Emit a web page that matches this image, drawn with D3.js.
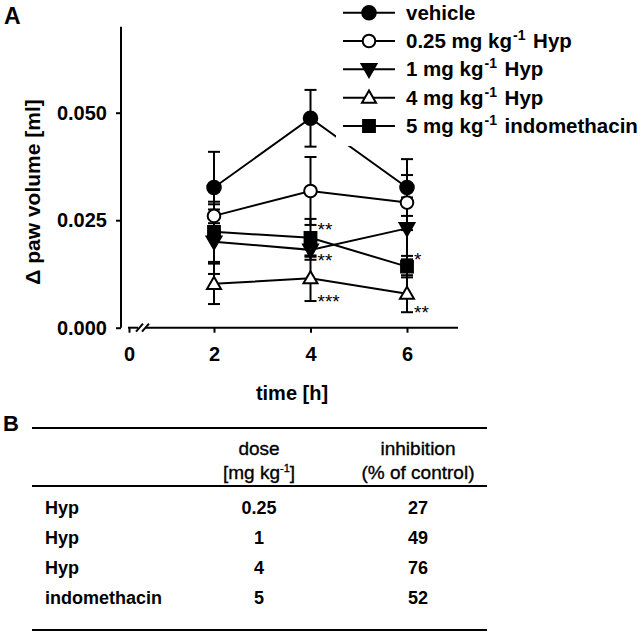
<!DOCTYPE html>
<html><head><meta charset="utf-8">
<script src="https://cdn.jsdelivr.net/npm/d3@7"></script>
<style>
html,body{margin:0;padding:0;background:#fff;}
svg{display:block;font-family:"Liberation Sans",Arial,sans-serif;}
</style></head>
<body>
<svg id="chart" width="642" height="635"></svg>
<script>
// ---- data ----
const times = [2, 4, 6];
const xTicks = [0, 2, 4, 6];
const yTicks = [0, 0.025, 0.05];
const seriesNames = ["vehicle", "0.25 mg kg-1 Hyp", "1 mg kg-1 Hyp", "4 mg kg-1 Hyp", "5 mg kg-1 indomethacin"];
const vehicleMean = [0.0326, 0.0487, 0.0326];
const vehicleErr  = [0.0083, 0.0066, 0.0066];
const hyp025Mean  = [0.0260, 0.0318, 0.0291];
const hyp025Err   = [0.0027, 0.0079, 0.0064];
const hyp1Mean    = [0.0200, 0.0181, 0.0231];
const hyp1Err     = [0.0075, 0.0023, 0.0072];
const hyp4Mean    = [0.0102, 0.0115, 0.0079];
const hyp4Err     = [0.0047, 0.0053, 0.0043];
const indoMean    = [0.0223, 0.0209, 0.0142];
const indoErr     = [0.0070, 0.0044, 0.0025];
// significance marks: series index, time, label, side of error bar
const sigSeries = [4, 2, 3, 2, 3];
const sigTimes  = [4, 4, 4, 6, 6];
const sigLabels = ["**", "**", "***", "*", "**"];
const sigSide   = ["top", "bottom", "bottom", "bottom", "bottom"];
// table
const tableHeaderDose = ["dose", "[mg kg-1]"];
const tableHeaderInh  = ["inhibition", "(% of control)"];
const tableAgent = ["Hyp", "Hyp", "Hyp", "indomethacin"];
const tableDose  = ["0.25", "1", "4", "5"];
const tableInhibition = [27, 49, 76, 52];

// ---- build ----
const means = [vehicleMean, hyp025Mean, hyp1Mean, hyp4Mean, indoMean];
const errs  = [vehicleErr, hyp025Err, hyp1Err, hyp4Err, indoErr];
const styles = [
  {sym: d3.symbolCircle, fill: "#000", rot: 0, size: 145},
  {sym: d3.symbolCircle, fill: "#fff", rot: 0, size: 125},
  {sym: d3.symbolTriangle, fill: "#000", rot: 180, size: 95},
  {sym: d3.symbolTriangle, fill: "#fff", rot: 0, size: 85},
  {sym: d3.symbolSquare, fill: "#000", rot: 0, size: 140}
];

const svg = d3.select("#chart");
const x = d3.scaleLinear().domain([0, 2, 6, 7.05]).range([129, 214, 407, 458]);
const y = d3.scaleLinear().domain([0, 0.07]).range([327.7, 26.7]);
const F = "Liberation Sans, Arial, sans-serif";

// panel labels
svg.append("text").attr("x", 4).attr("y", 24).attr("font-size", 23).attr("font-weight", "bold").text("A");
svg.append("text").attr("x", 3).attr("y", 431).attr("font-size", 22).attr("font-weight", "bold").text("B");

// y axis
const yAxisG = svg.append("g").attr("transform", "translate(121,0)")
  .call(d3.axisLeft(y).tickValues(yTicks).tickFormat(d3.format(".3f")).tickSize(5).tickPadding(9).tickSizeOuter(0));
yAxisG.select(".domain").remove();
yAxisG.append("line").attr("x1", 0).attr("x2", 0).attr("y1", y(0)).attr("y2", y(0.07)).attr("stroke", "#000").attr("stroke-width", 2);
yAxisG.selectAll(".tick line").attr("stroke-width", 2);
yAxisG.selectAll(".tick text").attr("font-size", 20).attr("font-weight", "bold").attr("font-family", F).attr("fill", "#000");

// x axis
const x0 = y(0);
const xAxisG = svg.append("g").attr("transform", `translate(0,${x0})`)
  .call(d3.axisBottom(x).tickValues(xTicks).tickFormat(d3.format("d")).tickSize(5).tickPadding(14));
xAxisG.select(".domain").remove();
xAxisG.selectAll(".tick line").attr("stroke-width", 2);
xAxisG.selectAll(".tick text").attr("font-size", 20).attr("font-weight", "bold").attr("font-family", F).attr("fill", "#000");
xAxisG.append("line").attr("x1", x(0) - 1).attr("x2", x(0) + 9).attr("y1", 0).attr("y2", 0).attr("stroke", "#000").attr("stroke-width", 2);
xAxisG.append("line").attr("x1", x(0) + 17).attr("x2", x(7.05)).attr("y1", 0).attr("y2", 0).attr("stroke", "#000").attr("stroke-width", 2);
[0, 6].forEach(o => {
  xAxisG.append("line").attr("x1", x(0) + 7 + o).attr("y1", 4).attr("x2", x(0) + 14 + o).attr("y2", -4)
    .attr("stroke", "#000").attr("stroke-width", 2);
});

// axis titles
svg.append("text").attr("transform", "translate(40,192) rotate(-90)").attr("text-anchor", "middle")
  .attr("font-size", 21).attr("font-weight", "bold").text("Δ paw volume [ml]");
svg.append("text").attr("x", 292).attr("y", 400).attr("text-anchor", "middle")
  .attr("font-size", 20).attr("font-weight", "bold").text("time [h]");

// series
const line = d3.line().x((d, i) => x(times[i])).y(d => y(d));
const sym = (s) => d3.symbol().type(s.sym).size(s.size)();
means.forEach((m, si) => {
  svg.append("path").attr("d", line(m)).attr("fill", "none").attr("stroke", "#000").attr("stroke-width", 2);
});
means.forEach((m, si) => {
  const g = svg.append("g");
  m.forEach((v, i) => {
    const e = errs[si][i], cx = x(times[i]);
    g.append("line").attr("x1", cx).attr("x2", cx).attr("y1", y(v - e)).attr("y2", y(v + e)).attr("stroke", "#000").attr("stroke-width", 2);
    [v - e, v + e].forEach(w => g.append("line").attr("x1", cx - 6).attr("x2", cx + 6).attr("y1", y(w)).attr("y2", y(w)).attr("stroke", "#000").attr("stroke-width", 2));
  });
});
[4, 3, 2, 1, 0].forEach(si => {
  const st = styles[si];
  means[si].forEach((v, i) => {
    svg.append("path").attr("d", sym(st))
      .attr("transform", `translate(${x(times[i])},${y(v) + (st.sym === d3.symbolTriangle ? (st.rot ? -1 : 1) : 0)}) rotate(${st.rot})`)
      .attr("fill", st.fill).attr("stroke", "#000").attr("stroke-width", 2);
  });
});

// significance
sigLabels.forEach((lab, k) => {
  const si = sigSeries[k], ti = times.indexOf(sigTimes[k]);
  const v = means[si][ti], e = errs[si][ti];
  const yy = sigSide[k] === "top" ? y(v + e) + 6 : y(v - e) - 4;
  svg.append("text").attr("x", x(sigTimes[k]) + 7).attr("y", yy + 11).attr("font-size", 19).text(lab);
});

// legend
const lg = svg.append("g");
lg.append("rect").attr("x", 336).attr("y", 0).attr("width", 306).attr("height", 146).attr("fill", "#fff");
const ly = d3.scalePoint().domain(d3.range(seriesNames.length)).range([12.7, 126]);
seriesNames.forEach((name, i) => {
  const cy = ly(i), st = styles[i];
  lg.append("line").attr("x1", 343).attr("x2", 395).attr("y1", cy).attr("y2", cy).attr("stroke", "#000").attr("stroke-width", 2);
  lg.append("path").attr("d", sym(st)).attr("transform", `translate(369,${cy + (st.sym === d3.symbolTriangle ? (st.rot ? -1 : 1) : 0)}) rotate(${st.rot})`)
    .attr("fill", st.fill).attr("stroke", "#000").attr("stroke-width", 2);
  const t = lg.append("text").attr("x", 406).attr("y", cy + 7).attr("font-size", 20.5).attr("font-weight", "bold");
  const parts = name.split("kg-1");
  if (parts.length > 1) {
    t.append("tspan").text(parts[0] + "kg");
    t.append("tspan").attr("font-size", 14).attr("dy", -8).attr("dx", 1).text("-1");
    t.append("tspan").attr("dy", 8).attr("dx", 2).text(parts[1]);
  } else t.text(name);
});

// table
const tbl = svg.append("g");
[428, 486, 630].forEach(yy => tbl.append("line").attr("x1", 32).attr("x2", 487).attr("y1", yy).attr("y2", yy).attr("stroke", "#000").attr("stroke-width", 2));
const colDose = 259, colInh = 418;
const hy = [448, 472];
tableHeaderDose.forEach((h, i) => {
  const t = tbl.append("text").attr("x", colDose).attr("y", hy[i]).attr("dy", "0.35em").attr("text-anchor", "middle").attr("font-size", 19).attr("stroke", "#000").attr("stroke-width", 0.35);
  const p = h.split("kg-1");
  if (p.length > 1) {
    t.append("tspan").text(p[0] + "kg");
    t.append("tspan").attr("font-size", 11).attr("dy", -7).text("-1");
    t.append("tspan").attr("dy", 7).text(p[1]);
  } else t.text(h);
});
tableHeaderInh.forEach((h, i) => {
  tbl.append("text").attr("x", colInh).attr("y", hy[i]).attr("dy", "0.35em").attr("text-anchor", "middle").attr("font-size", 19).attr("stroke", "#000").attr("stroke-width", 0.35).text(h);
});
const ry = d3.scalePoint().domain(d3.range(tableAgent.length)).range([508, 598]);
tableAgent.forEach((a, i) => {
  tbl.append("text").attr("x", 45).attr("y", ry(i)).attr("dy", "0.35em").attr("font-size", 18).attr("font-weight", "bold").text(a);
  tbl.append("text").attr("x", colDose).attr("y", ry(i)).attr("dy", "0.35em").attr("text-anchor", "middle").attr("font-size", 18).attr("font-weight", "bold").text(tableDose[i]);
  tbl.append("text").attr("x", colInh).attr("y", ry(i)).attr("dy", "0.35em").attr("text-anchor", "middle").attr("font-size", 18).attr("font-weight", "bold").text(tableInhibition[i]);
});
</script>
</body></html>
